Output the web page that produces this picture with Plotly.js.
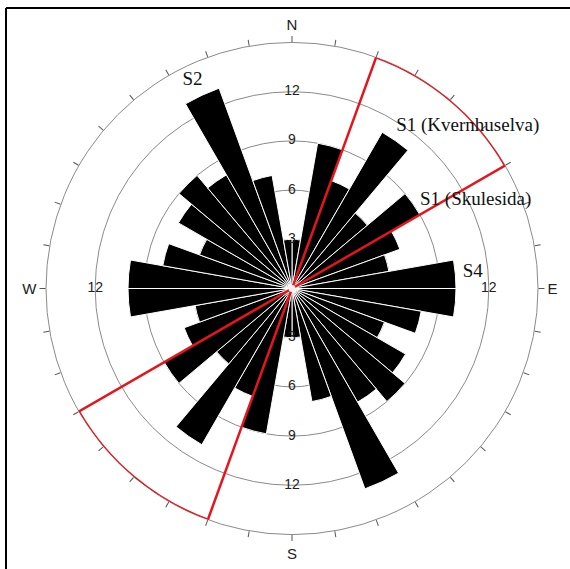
<!DOCTYPE html>
<html>
<head>
<meta charset="utf-8">
<script src="https://cdn.plot.ly/plotly-3.0.1.min.js"></script>
<style>
html,body{margin:0;padding:0;background:#fff;}
#chart{width:570px;height:569px;}
</style>
</head>
<body>
<div id="chart"></div>
<script>
// Bin centres (degrees azimuth) and counts (axial data, mirrored)
var binCenters = [5,15,25,35,45,55,65,75,85,95,105,115,125,135,145,155,165,175,
                  185,195,205,215,225,235,245,255,265,275,285,295,305,315,325,335,345,355];
var counts = [3,9,7,11,6,9,7,6,10,10,8,6,8,9,8,13,7,3,
              3,9,7,11,6,9,7,6,10,10,8,6,8,9,8,13,7,3];

// Highlighted sectors (centre azimuth, angular width, radius)
var sectorCenters = [40, 220];
var sectorWidths = [40, 40];
var sectorRadius = [15, 15];

// Radial scale labels
var scaleR = [3,6,9,12, 3,6,9,12, 12, 12];
var scaleTheta = [0,0,0,0, 180,180,180,180, 270, 90];
var scaleText = ['3','6','9','12','3','6','9','12','12','12'];

// Set labels
var setText = ['S2','S1 (Kvernhuselva)','S1 (Skulesida)','S4'];
var setR = [14.08, 14.58, 12.42, 11.07];
var setTheta = [334.5, 47.3, 64.4, 84.8];

var angTicks = [];
var angText = [];
for (var a = 0; a < 360; a += 10) {
  angTicks.push(a);
  angText.push(a === 0 ? 'N' : a === 90 ? 'E' : a === 180 ? 'S' : a === 270 ? 'W' : '');
}

var traces = [
  {
    type: 'scatterpolar', mode: 'text',
    r: scaleR, theta: scaleTheta, text: scaleText,
    textposition: 'middle center',
    textfont: {family: 'Liberation Sans, Arial, sans-serif', size: 14, color: '#222'},
    hoverinfo: 'skip', showlegend: false
  },
  {
    type: 'barpolar',
    r: counts, theta: binCenters, width: 10,
    marker: {color: '#000', line: {color: '#fff', width: 1}},
    hoverinfo: 'skip', showlegend: false
  },
  {
    type: 'barpolar',
    r: sectorRadius, theta: sectorCenters, width: sectorWidths,
    marker: {color: 'rgba(0,0,0,0)', line: {color: '#e8141b', width: 2.5}},
    hoverinfo: 'skip', showlegend: false
  },
  {
    type: 'scatterpolar', mode: 'markers',
    r: [0], theta: [0],
    marker: {color: '#f2f2f2', size: 7, line: {width: 0}},
    hoverinfo: 'skip', showlegend: false
  },
  {
    type: 'scatterpolar', mode: 'text',
    r: setR, theta: setTheta, text: setText,
    textposition: 'middle center',
    textfont: {family: 'Liberation Serif, Times New Roman, serif', size: 19, color: '#111'},
    cliponaxis: false,
    hoverinfo: 'skip', showlegend: false
  }
];

var layout = {
  width: 570, height: 569,
  margin: {l: 0, r: 0, t: 0, b: 0},
  paper_bgcolor: '#fff',
  showlegend: false,
  polar: {
    domain: {x: [46/570, 538/570], y: [34.5/569, 526.5/569]},
    bgcolor: 'rgba(0,0,0,0)',
    barmode: 'overlay',
    bargap: 0,
    radialaxis: {
      range: [0, 15], tickvals: [3,6,9,12],
      showticklabels: false, ticks: '', showline: false,
      showgrid: true, gridcolor: '#8a8a8a', gridwidth: 1,
      layer: 'below traces'
    },
    angularaxis: {
      rotation: 90, direction: 'clockwise',
      tickmode: 'array', tickvals: angTicks, ticktext: angText,
      ticks: 'outside', ticklen: 6, tickcolor: '#555', tickwidth: 1,
      showline: true, linecolor: '#8a8a8a', linewidth: 1,
      showgrid: false, layer: 'below traces',
      tickfont: {family: 'Liberation Sans, Arial, sans-serif', size: 15, color: '#222'}
    }
  },
  shapes: [
    {type: 'line', xref: 'paper', yref: 'paper', x0: 6/570, x1: 1.01, y0: 1 - 8/569, y1: 1 - 8/569,
     line: {color: '#000', width: 2}},
    {type: 'line', xref: 'paper', yref: 'paper', x0: 6/570, x1: 6/570, y0: -0.01, y1: 1 - 8/569,
     line: {color: '#000', width: 2}}
  ]
};

Plotly.newPlot('chart', traces, layout, {displayModeBar: false, staticPlot: true});
</script>
</body>
</html>
